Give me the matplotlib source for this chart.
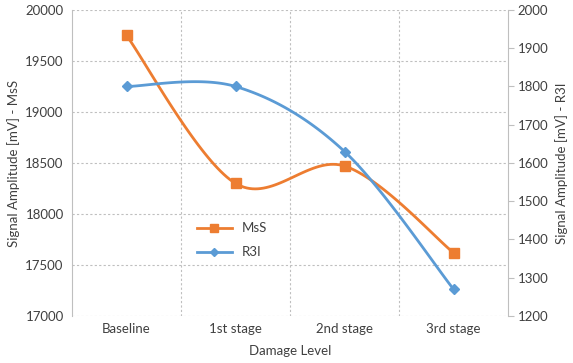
import numpy as np
import matplotlib.pyplot as plt

# -----------------------------
# Data
# -----------------------------
stages = ["Baseline", "1st stage", "2nd stage", "3rd stage"]
mss = [19750, 18300, 18470, 17620]
r3i = [1800, 1800, 1630, 1270]

orange = "#ED7D31"
blue = "#5B9BD5"
grid_c = "#BFBFBF"
text_c = "#404040"
fs = 9.5

plt.rcParams['font.family'] = ['Lato', 'DejaVu Sans']


def smooth(x, y, n=40):
    # Excel-style smoothed line: cubic Bezier through points, control points from neighbours
    x = np.asarray(x, float)
    y = np.asarray(y, float)
    px = np.concatenate([[x[0]], x, [x[-1]]])
    py = np.concatenate([[y[0]], y, [y[-1]]])
    xs, ys = [], []
    t = np.linspace(0, 1, n)
    for i in range(len(x) - 1):
        p0 = np.array([px[i + 1], py[i + 1]])
        p3 = np.array([px[i + 2], py[i + 2]])
        c1 = p0 + (np.array([px[i + 2], py[i + 2]]) - np.array([px[i], py[i]])) / 6
        c2 = p3 - (np.array([px[i + 3], py[i + 3]]) - np.array([px[i + 1], py[i + 1]])) / 6
        b = ((1 - t) ** 3)[:, None] * p0 + (3 * (1 - t) ** 2 * t)[:, None] * c1 \
            + (3 * (1 - t) * t ** 2)[:, None] * c2 + (t ** 3)[:, None] * p3
        xs.append(b[:, 0])
        ys.append(b[:, 1])
    return np.concatenate(xs), np.concatenate(ys)


fig = plt.figure(figsize=(5.73, 3.63), dpi=100)
ax = fig.add_axes([0.1257, 0.1295, 0.7609, 0.843])
ax2 = ax.twinx()

x = np.arange(len(stages))

sx, sy = smooth(x, mss)
ax.plot(sx, sy, color=orange, lw=2, zorder=3)
ax.plot(x, mss, ls="none", marker="s", ms=7, color=orange, zorder=4)

rx, ry = smooth(x, r3i)
ax2.plot(rx, ry, color=blue, lw=2, zorder=3)
ax2.plot(x, r3i, ls="none", marker="D", ms=5, color=blue, zorder=4)

ax.set_xlim(-0.5, len(stages) - 0.5)
ax.set_ylim(17000, 20000)
ax.set_yticks(np.arange(17000, 20001, 500))
ax2.set_ylim(1200, 2000)
ax2.set_yticks(np.arange(1200, 2001, 100))

ax.set_xticks(x)
ax.set_xticklabels(stages)
ax.set_xticks(np.arange(0.5, len(stages) - 0.5, 1), minor=True)
ax.tick_params(axis="x", which="both", length=0, pad=5)
ax.grid(True, which="minor", axis="x", color=grid_c, ls=(0, (2, 2)), lw=0.8)
ax.grid(True, which="major", axis="y", color=grid_c, ls=(0, (2, 2)), lw=0.8)

for a in (ax, ax2):
    a.spines["top"].set_visible(False)
    a.spines["bottom"].set_visible(False)
    a.spines["left"].set_color(grid_c)
    a.spines["right"].set_color(grid_c)
    a.tick_params(axis="y", colors=text_c, labelsize=fs, length=4, color=grid_c)
ax.tick_params(axis="x", colors=text_c, labelsize=fs)
ax.tick_params(axis="y", length=0, pad=6)
ax2.tick_params(axis="y", pad=3)
ax.spines["right"].set_visible(False)
ax2.spines["left"].set_visible(False)

ax.set_xlabel("Damage Level", fontsize=fs, color=text_c, labelpad=7)
ax.set_ylabel("Signal Amplitude [mV] - MsS", fontsize=fs, color=text_c, labelpad=4)
ax2.set_ylabel("Signal Amplitude [mV] - R3I", fontsize=fs, color=text_c, labelpad=5)

h1, = ax.plot([], [], color=orange, lw=2, marker="s", ms=6, label="MsS")
h2, = ax.plot([], [], color=blue, lw=2, marker="D", ms=4.5, label="R3I")
ax.legend(handles=[h1, h2], loc="upper left", bbox_to_anchor=(0.26, 0.345), frameon=False,
          fontsize=fs, labelcolor=text_c, handlelength=2.6, labelspacing=0.9)

plt.savefig("out.png", dpi=100)
